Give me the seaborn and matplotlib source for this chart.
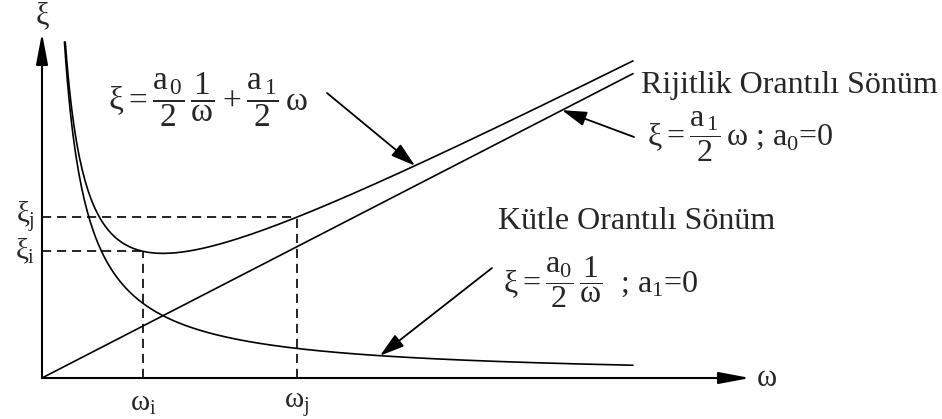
import numpy as np
import pandas as pd
import seaborn as sns
import matplotlib.pyplot as plt

# Rayleigh damping: xi = a0/(2 w) + a1 w / 2   (w and xi in drawing units)
a0 = 1.508          # mass-proportional coefficient
a1 = 1.03           # stiffness-proportional coefficient
omega_i = 1.01
omega_j = 2.55
omega_end = 5.91    # right end of the curves
xi_top = 3.36       # upper cut-off of the 1/w branches
omega_axis_end = 7.08
xi_axis_end = 3.45

sns.set_style("white")
plt.rcParams["font.family"] = ["Liberation Serif", "DejaVu Serif"]
plt.rcParams["mathtext.fontset"] = "custom"
plt.rcParams["mathtext.rm"] = "Liberation Serif"
plt.rcParams["mathtext.it"] = "Liberation Serif"
plt.rcParams["mathtext.fallback"] = "stix"


def xi_mass(w):
    return a0 / (2 * w)


def xi_stiff(w):
    return a1 * w / 2


def xi_total(w):
    return xi_mass(w) + xi_stiff(w)


w_mass0 = a0 / (2 * xi_top)
w_tot0 = (xi_top - np.sqrt(xi_top ** 2 - a0 * a1)) / a1

w_m = np.linspace(w_mass0, omega_end, 400)
w_t = np.linspace(w_tot0, omega_end, 400)
w_s = np.linspace(0, omega_end, 2)

df = pd.concat([
    pd.DataFrame({"omega": w_m, "xi": xi_mass(w_m), "curve": "mass"}),
    pd.DataFrame({"omega": w_t, "xi": xi_total(w_t), "curve": "total"}),
    pd.DataFrame({"omega": w_s, "xi": xi_stiff(w_s), "curve": "stiff"}),
])

fig = plt.figure(figsize=(9.42, 4.19), dpi=100)
ax = fig.add_axes([0, 0, 1, 1])
sns.lineplot(data=df, x="omega", y="xi", hue="curve", units="curve",
             estimator=None, sort=False, legend=False,
             palette={"mass": "black", "total": "black", "stiff": "black"},
             linewidth=1.2, ax=ax)
ax.set_xlim(-0.42, 9.00)
ax.set_ylim(-0.41, 3.78)
ax.axis("off")

# axes with filled arrowheads
axis_arrow = dict(arrowstyle="-|>,head_length=1.9,head_width=0.36",
                  mutation_scale=10, lw=1.5, color="black",
                  shrinkA=0, shrinkB=0)
ax.annotate("", xy=(omega_axis_end, 0), xytext=(0, 0), arrowprops=axis_arrow)
ax.annotate("", xy=(0, xi_axis_end), xytext=(0, 0), arrowprops=axis_arrow)
ax.text(7.25, 0.0, "ω", fontsize=22, ha="center", va="center")
ax.text(0, 3.62, "ξ", fontsize=22, ha="center", va="center")

# reference frequencies and damping ratios
xi_i = xi_total(omega_i)
xi_j = xi_total(omega_j)
dash = dict(color="black", lw=1.2, dashes=(5.5, 3.5))
ax.plot([0, omega_i], [xi_i, xi_i], **dash)
ax.plot([0, omega_j], [xi_j, xi_j], **dash)
ax.plot([omega_i, omega_i], [0, xi_i], **dash)
ax.plot([omega_j, omega_j], [0, xi_j], **dash)
ax.text(-0.17, xi_j, r"$\xi_\mathrm{j}$", fontsize=21, ha="center", va="center")
ax.text(-0.17, xi_i, r"$\xi_\mathrm{i}$", fontsize=21, ha="center", va="center")
ax.text(omega_i, -0.26, r"$\omega_\mathrm{i}$", fontsize=21, ha="center", va="center")
ax.text(omega_j, -0.26, r"$\omega_\mathrm{j}$", fontsize=21, ha="center", va="center")

# formulas and labels
ax.text(0.66, 2.78,
        r"$\xi = \dfrac{a_{\,0}}{2}\,\dfrac{1}{\omega} + \dfrac{a_{\,1}}{2}\,\omega$",
        fontsize=24, ha="left", va="center")
ax.text(5.99, 2.85, "Rijitlik Orantılı Sönüm", fontsize=23,
        ha="left", va="baseline")
ax.text(6.05, 2.41, r"$\xi = \dfrac{a_{\,1}}{2}\,\omega$ ; a$_0$=0",
        fontsize=23, ha="left", va="center")
ax.text(4.56, 1.49, "Kütle Orantılı Sönüm", fontsize=23,
        ha="left", va="baseline")
ax.text(4.61, 0.96, r"$\xi = \dfrac{a_0}{2}\,\dfrac{1}{\omega}$  ; a$_1$=0",
        fontsize=23, ha="left", va="center")

# pointer arrows onto the curves
pointer = dict(arrowstyle="-|>,head_length=1.5,head_width=0.45",
               mutation_scale=10, lw=1.3, color="black",
               shrinkA=0, shrinkB=0)
w1 = 3.73
ax.annotate("", xy=(w1, xi_total(w1)), xytext=(2.85, 2.85), arrowprops=pointer)
w2 = 5.20
ax.annotate("", xy=(w2, xi_stiff(w2)), xytext=(5.92, 2.41), arrowprops=pointer)
w3 = 3.38
ax.annotate("", xy=(w3, xi_mass(w3)), xytext=(4.50, 1.10), arrowprops=pointer)

fig.savefig("out.png", dpi=100)
